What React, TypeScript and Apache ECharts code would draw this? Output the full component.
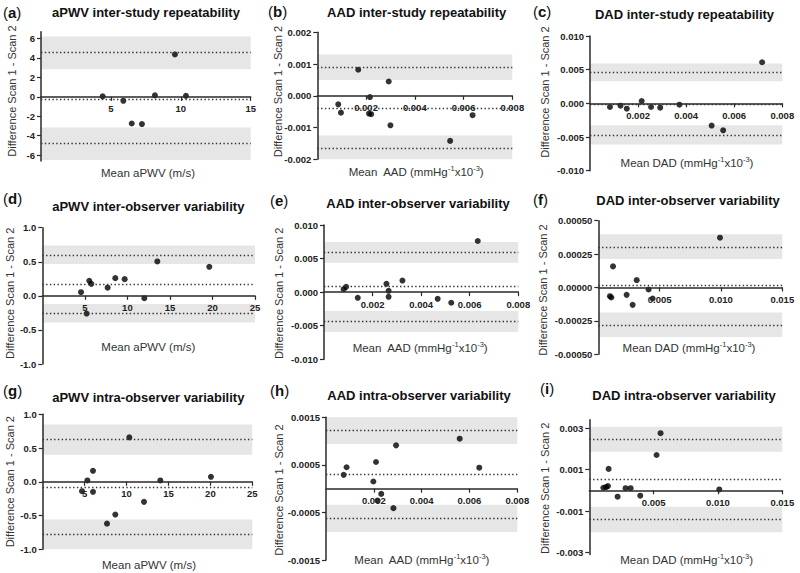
import { useEffect, useRef } from "react";
import * as echarts from "echarts";

const FONT = "'Liberation Sans', Arial, Helvetica, sans-serif";

// ---------- text ----------
const panelLetters = ["a", "b", "c", "d", "e", "f", "g", "h", "i"];
const panelTitles = [
  "aPWV inter-study repeatability",
  "AAD inter-study repeatability",
  "DAD inter-study repeatability",
  "aPWV inter-observer variability",
  "AAD inter-observer variability",
  "DAD inter-observer variability",
  "aPWV intra-observer variability",
  "AAD intra-observer variability",
  "DAD intra-observer variability",
];
const yTitle = "Difference Scan 1 - Scan 2";
const xTitleKinds = ["aPWV", "AAD", "DAD", "aPWV", "AAD", "DAD", "aPWV", "AAD", "DAD"];

// ---------- data (mean of scans, difference) ----------
const aMean = [4.41, 5.89, 6.49, 7.22, 8.15, 9.58, 10.37];
const aDiff = [0.05, -0.41, -2.74, -2.8, 0.15, 4.36, 0.1];
const bMean = [0.00086, 0.00097, 0.00168, 0.00212, 0.00216, 0.00221, 0.00293, 0.003, 0.00545, 0.00637];
const bDiff = [-0.00027, -0.00053, 0.00082, -0.00056, -0.00004, -0.00058, 0.00045, -0.00093, -0.00142, -0.00061];
const cMean = [0.00083, 0.00127, 0.00153, 0.00215, 0.00254, 0.00292, 0.00372, 0.00506, 0.00554, 0.00716];
const cDiff = [-0.00054, -0.00035, -0.00079, 0.00035, -0.00054, -0.00064, -0.0002, -0.0033, -0.004, 0.0061];
const dMean = [4.55, 5.21, 5.52, 5.76, 7.68, 8.58, 9.68, 11.99, 13.52, 19.63];
const dDiff = [0.054, -0.26, 0.22, 0.176, 0.12, 0.26, 0.245, -0.034, 0.505, 0.426];
const eMean = [0.00081, 0.00091, 0.00139, 0.00257, 0.00266, 0.00266, 0.00323, 0.00468, 0.00524, 0.00633];
const eDiff = [0.00045, 0.00079, -0.00084, 0.00124, 0.0002, -0.00069, 0.00173, -0.00099, -0.00158, 0.00762];
const fMean = [0.00095, 0.00106, 0.0012, 0.00231, 0.0028, 0.00313, 0.0041, 0.00443, 0.00992];
const fDiff = [-0.000065, -0.000075, 0.000158, -0.000055, -0.00013, 0.000055, -0.000015, -0.0000825, 0.000373];
const gMean = [4.69, 5.33, 6.0, 6.0, 7.67, 8.66, 10.33, 12.08, 14.03, 20.07];
const gDiff = [-0.139, 0.02, 0.163, -0.149, -0.62, -0.485, 0.658, -0.297, 0.02, 0.074];
const hMean = [0.00074, 0.00086, 0.00198, 0.00209, 0.00215, 0.00231, 0.00282, 0.00293, 0.00559, 0.00641];
const hDiff = [0.00029, 0.00045, 0.00015, 0.00056, -0.00025, -0.00011, -0.00041, 0.00091, 0.00105, 0.00044];
const iMean = [0.00109, 0.0013, 0.00145, 0.0015, 0.0022, 0.00282, 0.00321, 0.00396, 0.00523, 0.00554, 0.0101];
const iDiff = [0.00012, 0.00015, 0.0002, 0.00103, -0.00031, 0.0001, 0.0001, -0.00026, 0.0017, 0.00275, 0.00004];

// limits of agreement: [upper, mean bias, lower]
const aLimits = [4.6, -0.2, -4.77];
const bLimits = [0.0009, -0.00038, -0.00164];
const cLimits = [0.00455, -0.0002, -0.0047];
const dLimits = [0.6, 0.17, -0.255];
const eLimits = [0.00594, 0.00084, -0.0044];
const fLimits = [0.000305, 0.0000175, -0.000283];
const gLimits = [0.63, -0.08, -0.78];
const hLimits = [0.00123, 0.0003, -0.00063];
const iLimits = [0.00246, 0.00052, -0.0014];

// confidence bands around the limits: [[low, high] upper band, [low, high] lower band]
const aBands = [[2.85, 6.2], [-6.5, -3.16]];
const bBands = [[0.0005, 0.0013], [-0.002, -0.00125]];
const cBands = [[0.00327, 0.0059], [-0.0061, -0.00327]];
const dBands = [[0.466, 0.74], [-0.39, -0.12]];
const eBands = [[0.00436, 0.00748], [-0.00594, -0.00282]];
const fBands = [[0.000213, 0.000398], [-0.00037, -0.0001875]];
const gBands = [[0.4, 0.85], [-1.0, -0.56]];
const hBands = [[0.00094, 0.0015], [-0.00091, -0.00034]];
const iBands = [[0.00185, 0.00306], [-0.00202, -0.0008]];

// tick labels
const pwvXTicks = [5, 10, 15, 20, 25];
const pwvXTicksA = [5, 10, 15];
const adXTicks = [0.002, 0.004, 0.006, 0.008];
const dadXTicksWide = [0.005, 0.01, 0.015];
const aYTicks = [-6, -4, -2, 0, 2, 4, 6];
const bYTicks = [-0.002, -0.001, 0, 0.001, 0.002];
const cYTicks = [-0.01, -0.005, 0, 0.005, 0.01];
const dYTicks = [-1, -0.5, 0, 0.5, 1];
const fYTicks = [-0.0005, -0.00025, 0, 0.00025, 0.0005];
const hYTicks = [-0.0015, -0.0005, 0.0005, 0.0015];
const iYTicks = [-0.003, -0.001, 0.001, 0.003];

const means = [aMean, bMean, cMean, dMean, eMean, fMean, gMean, hMean, iMean];
const diffs = [aDiff, bDiff, cDiff, dDiff, eDiff, fDiff, gDiff, hDiff, iDiff];
const limits = [aLimits, bLimits, cLimits, dLimits, eLimits, fLimits, gLimits, hLimits, iLimits];
const bands = [aBands, bBands, cBands, dBands, eBands, fBands, gBands, hBands, iBands];

// ---------- layout ----------
type Layout = {
  l: number; r: number; t: number; b: number;
  xMin: number; xMax: number; yMin: number; yMax: number;
  xTicks: number[]; yTicks: number[]; xDec: number; yDec: number;
  letter: [number, number]; title: [number, number];
  yt: [number, number]; xt: [number, number];
};

const layouts: Layout[] = [
  { l: 41, r: 250.7, t: 31.7, b: 161, xMin: 0, xMax: 15, yMin: -6.6, yMax: 6.7, xTicks: pwvXTicksA, yTicks: aYTicks, xDec: 0, yDec: 0, letter: [3, 12], title: [146, 12], yt: [12, 91], xt: [148, 172.7] },
  { l: 317.3, r: 512.3, t: 32.3, b: 159.3, xMin: 0, xMax: 0.008, yMin: -0.002, yMax: 0.002, xTicks: adXTicks, yTicks: bYTicks, xDec: 3, yDec: 3, letter: [268, 11], title: [416.7, 12], yt: [278.3, 91.5], xt: [416, 172] },
  { l: 590, r: 782.3, t: 36, b: 170.7, xMin: 0, xMax: 0.008, yMin: -0.01, yMax: 0.01, xTicks: adXTicks, yTicks: cYTicks, xDec: 3, yDec: 3, letter: [533, 11.7], title: [684.5, 14], yt: [545, 92], xt: [687, 163.3] },
  { l: 42.3, r: 255, t: 227.7, b: 364, xMin: 0, xMax: 25, yMin: -1, yMax: 1, xTicks: pwvXTicks, yTicks: dYTicks, xDec: 0, yDec: 1, letter: [3, 198], title: [148.3, 206.7], yt: [10, 293.3], xt: [148.3, 346.7] },
  { l: 324, r: 518.3, t: 225, b: 359.3, xMin: 0, xMax: 0.008, yMin: -0.01, yMax: 0.01, xTicks: adXTicks, yTicks: cYTicks, xDec: 3, yDec: 3, letter: [270, 200], title: [418, 203.3], yt: [279, 293.3], xt: [420, 348.3] },
  { l: 598.3, r: 782.3, t: 220.7, b: 354.3, xMin: 0, xMax: 0.015, yMin: -0.0005, yMax: 0.0005, xTicks: dadXTicksWide, yTicks: fYTicks, xDec: 3, yDec: 5, letter: [533, 199], title: [688, 200], yt: [543.3, 290], xt: [689, 348.3] },
  { l: 42.7, r: 252.3, t: 414.3, b: 549.3, xMin: 0, xMax: 25, yMin: -1, yMax: 1, xTicks: pwvXTicks, yTicks: dYTicks, xDec: 0, yDec: 1, letter: [3, 390], title: [148.3, 397.7], yt: [10, 481.7], xt: [149, 565] },
  { l: 326, r: 517.3, t: 417.3, b: 560, xMin: 0, xMax: 0.008, yMin: -0.0015, yMax: 0.0015, xTicks: adXTicks, yTicks: hYTicks, xDec: 3, yDec: 4, letter: [270, 390], title: [419, 395.7], yt: [279, 490], xt: [421.7, 560] },
  { l: 589.3, r: 782.3, t: 419.7, b: 554.6, xMin: 0, xMax: 0.015, yMin: -0.0031, yMax: 0.0034, xTicks: dadXTicksWide, yTicks: iYTicks, xDec: 3, yDec: 3, letter: [540, 388.3], title: [684, 395.7], yt: [545, 488.3], xt: [686.7, 560] },
];

const AXIS_COLOR = "#2a2a2a";
const LABEL_FONT = { fontFamily: FONT, fontSize: 9.5, fontWeight: "bold" as const, color: "#222" };

function buildOption() {
  const grid: any[] = [];
  const xAxis: any[] = [];
  const yAxis: any[] = [];
  const series: any[] = [];
  const graphic: any[] = [];

  layouts.forEach((L, i) => {
    const h = L.b - L.t;
    // distance from the grid bottom up to the value 0 of the y axis
    const zeroLift = ((0 - L.yMin) / (L.yMax - L.yMin)) * h;
    grid.push({ left: L.l, top: L.t, width: L.r - L.l, height: h, containLabel: false });
    xAxis.push({
      gridIndex: i, type: "value", min: L.xMin, max: L.xMax, z: 4,
      position: "bottom", offset: -zeroLift,
      axisLine: { onZero: false, lineStyle: { color: AXIS_COLOR, width: 1.5 } },
      axisTick: { show: true, length: 4, inside: false, customValues: L.xTicks, lineStyle: { color: AXIS_COLOR, width: 1.2 } },
      axisLabel: { customValues: L.xTicks, margin: 7, ...LABEL_FONT, formatter: (v: number) => v.toFixed(L.xDec) },
      splitLine: { show: false },
    });
    yAxis.push({
      gridIndex: i, type: "value", min: L.yMin, max: L.yMax, z: 4,
      axisLine: { show: true, onZero: false, lineStyle: { color: AXIS_COLOR, width: 1.5 } },
      axisTick: { show: true, length: 4, customValues: L.yTicks, lineStyle: { color: AXIS_COLOR, width: 1.2 } },
      axisLabel: { customValues: L.yTicks, margin: 6, ...LABEL_FONT, formatter: (v: number) => v.toFixed(L.yDec) },
      splitLine: { show: false },
    });
    series.push({
      type: "scatter", xAxisIndex: i, yAxisIndex: i, z: 2,
      symbol: "circle", symbolSize: 6,
      itemStyle: { color: "#000" },
      data: means[i].map((m, k) => [m, diffs[i][k]]),
      markArea: {
        silent: true,
        itemStyle: { color: "#e6e6e6" },
        data: bands[i].map((bd) => [{ yAxis: bd[0] }, { yAxis: bd[1] }]),
      },
      markLine: {
        silent: true, symbol: ["none", "none"], label: { show: false },
        precision: 10,
        lineStyle: { type: [1.4, 2.4], color: "#333", width: 1.3 },
        data: limits[i].map((v) => ({ yAxis: v })),
      },
    });

    graphic.push({
      type: "text", x: L.letter[0], y: L.letter[1],
      style: {
        text: `{p|(}{l|${panelLetters[i]}}{p|)}`,
        verticalAlign: "middle", align: "left",
        rich: {
          p: { font: `15px ${FONT}`, fill: "#111" },
          l: { font: `bold 15px ${FONT}`, fill: "#111" },
        },
      },
    });
    graphic.push({
      type: "text", x: L.title[0], y: L.title[1],
      style: { text: panelTitles[i], font: `bold 13px ${FONT}`, fill: "#111", align: "center", verticalAlign: "middle" },
    });
    graphic.push({
      type: "text", x: L.yt[0], y: L.yt[1], rotation: Math.PI / 2,
      style: { text: yTitle, font: `11px ${FONT}`, fill: "#333", align: "center", verticalAlign: "middle" },
    });
    const kind = xTitleKinds[i];
    if (kind === "aPWV") {
      graphic.push({
        type: "text", x: L.xt[0], y: L.xt[1],
        style: { text: "Mean aPWV (m/s)", font: `11.5px ${FONT}`, fill: "#333", align: "center", verticalAlign: "middle" },
      });
    } else {
      const head = kind === "AAD" ? "Mean  AAD (mmHg" : "Mean DAD (mmHg";
      graphic.push({
        type: "text", x: L.xt[0], y: L.xt[1],
        style: {
          text: `{n|${head}}{s|-1}{n|x10}{s|-3}{n|)}`,
          align: "center", verticalAlign: "middle",
          rich: {
            n: { font: `11.5px ${FONT}`, fill: "#333", lineHeight: 15, verticalAlign: "middle" },
            s: { font: `7.5px ${FONT}`, fill: "#333", lineHeight: 9, verticalAlign: "top" },
          },
        },
      });
    }
  });

  return {
    animation: false,
    backgroundColor: "#ffffff",
    grid, xAxis, yAxis, series, graphic,
  };
}

export default function App() {
  const ref = useRef<HTMLDivElement>(null);
  useEffect(() => {
    document.body.style.margin = "0";
    if (!ref.current) return;
    const chart = echarts.init(ref.current, undefined, { renderer: "svg" });
    chart.setOption(buildOption() as any);
    return () => chart.dispose();
  }, []);
  return <div ref={ref} style={{ width: 800, height: 573, background: "#fff" }} />;
}
